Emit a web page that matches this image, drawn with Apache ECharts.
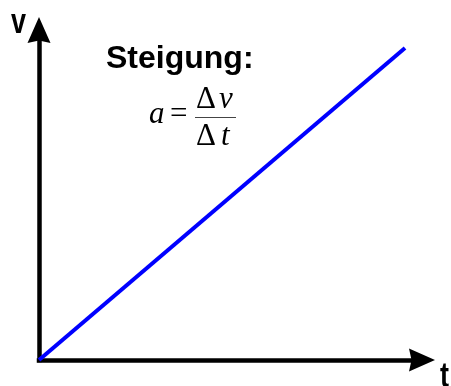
<!DOCTYPE html>
<html>
<head>
<meta charset="utf-8">
<style>
  html, body { margin: 0; padding: 0; background: #fff; }
  #chart { width: 451px; height: 386px; }
</style>
<script src="https://cdn.jsdelivr.net/npm/echarts@6/dist/echarts.min.js"></script>
</head>
<body>
<div id="chart"></div>
<script>
// Data
const tValues = [0, 9.556];
const vValues = [0, 9.455];
const axisMin = 0;
const axisMaxT = 10;
const axisMaxV = 10;
const xName = 't';
const yName = 'v';
const titleText = 'Steigung:';
const formulaLeft = 'a';
const formulaEq = '=';
const formulaNum = ['Δ', 'v'];
const formulaDen = ['Δ', 't'];

const lineData = tValues.map((t, i) => [t, vValues[i]]);

const chart = echarts.init(document.getElementById('chart'), null, { renderer: 'canvas' });

const arrowPath = 'path://M11.5,0 L23,26 L11.5,23.5 L0,26 Z';
const axisCommon = {
  type: 'value',
  min: axisMin,
  axisLine: {
    show: true,
    onZero: false,
    symbol: ['none', arrowPath],
    symbolSize: [23, 26],
    lineStyle: { color: '#000', width: 4.5, cap: 'square' }
  },
  axisTick: { show: false },
  axisLabel: { show: false },
  splitLine: { show: false }
};

const serif = '"Liberation Serif", "Times New Roman", serif';
const sans = '"Liberation Sans", Arial, sans-serif';

chart.setOption({
  animation: false,
  backgroundColor: '#fff',
  grid: { left: 39, right: 29, top: 30, bottom: 26 },
  xAxis: Object.assign({}, axisCommon, { max: axisMaxT }),
  yAxis: Object.assign({}, axisCommon, { max: axisMaxV }),
  series: [{
    type: 'line',
    data: lineData,
    symbol: 'none',
    clip: false,
    lineStyle: { color: '#0000ff', width: 4 },
    z: 5
  }],
  graphic: [
    { type: 'text', x: 11, y: 23, scaleY: 1.3,
      style: { text: yName, font: 'bold 27px ' + sans, fill: '#000', verticalAlign: 'middle', align: 'left' } },
    { type: 'text', x: 440, y: 377, scaleY: 1.3,
      style: { text: xName, font: 'bold 27px ' + sans, fill: '#000', verticalAlign: 'middle', align: 'left' } },
    { type: 'text', x: 106, y: 59,
      style: { text: titleText, font: 'bold 32px ' + sans, fill: '#000', verticalAlign: 'middle', align: 'left' } },
    { type: 'text', x: 149, y: 115,
      style: { text: formulaLeft, font: 'italic 31px ' + serif, fill: '#000', verticalAlign: 'middle', align: 'left' } },
    { type: 'text', x: 170, y: 114.5,
      style: { text: formulaEq, font: '31px ' + serif, fill: '#000', verticalAlign: 'middle', align: 'left' } },
    { type: 'text', x: 196, y: 100,
      style: { text: '{n|' + formulaNum[0] + '}{i|' + formulaNum[1] + '}', verticalAlign: 'middle', align: 'left',
        rich: { n: { font: '31px ' + serif, fill: '#000' }, i: { font: 'italic 31px ' + serif, fill: '#000', padding: [0, 0, 0, 3] } } } },
    { type: 'line', shape: { x1: 195, y1: 117.5, x2: 236, y2: 117.5 },
      style: { stroke: '#444', lineWidth: 1.2 } },
    { type: 'text', x: 196, y: 137,
      style: { text: '{n|' + formulaDen[0] + '}{i|' + formulaDen[1] + '}', verticalAlign: 'middle', align: 'left',
        rich: { n: { font: '31px ' + serif, fill: '#000' }, i: { font: 'italic 31px ' + serif, fill: '#000', padding: [0, 0, 0, 5] } } } }
  ]
});
</script>
</body>
</html>
